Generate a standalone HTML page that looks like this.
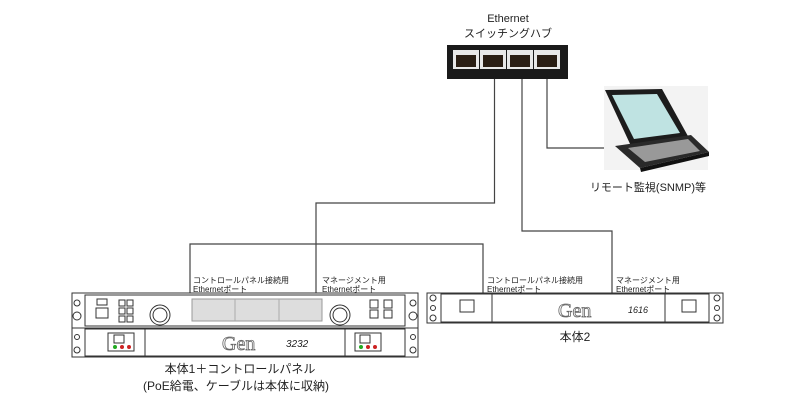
<!DOCTYPE html>
<html><head><meta charset="utf-8"><style>
body{margin:0;background:#fff;width:800px;height:400px;overflow:hidden}
svg text{font-family:"Liberation Sans","Noto Sans CJK JP",sans-serif;fill:#222}
svg text.gen{fill:none;stroke:#666;stroke-width:0.8;font-family:"Liberation Serif",serif}
</style></head><body>
<svg width="800" height="400" viewBox="0 0 800 400" xmlns="http://www.w3.org/2000/svg">
<text x="508" y="22" font-size="11" text-anchor="middle">Ethernet</text>
<text x="508" y="37" font-size="11" text-anchor="middle">スイッチングハブ</text>
<rect x="447" y="45" width="121" height="34" fill="#1a1a1a"/>
<g fill="#e8e8e8">
<rect x="453" y="50" width="26" height="19"/><rect x="480" y="50" width="26" height="19"/>
<rect x="507" y="50" width="26" height="19"/><rect x="534" y="50" width="26" height="19"/>
</g>
<g fill="#2a1e14">
<rect x="456" y="55" width="20" height="12"/><rect x="483" y="55" width="20" height="12"/>
<rect x="510" y="55" width="20" height="12"/><rect x="537" y="55" width="20" height="12"/>
</g>
<g stroke="#444" stroke-width="1.2" fill="none">
<polyline points="494.5,79 494.5,203 316,203 316,293"/>
<polyline points="522,79 522,231 612,231 612,293"/>
<polyline points="190,293 190,244 483,244 483,293"/>
<polyline points="547,79 547,148 604,148"/>
</g>
<rect x="604" y="86" width="104" height="84" fill="#f3f3f3"/>
<polygon points="605,90 662,89 689,138 631,146" fill="#1c1c1c"/>
<polygon points="612,95 657,94 680,133 634,139" fill="#bfe3e2"/>
<polygon points="615,146 691,135 709,152 640,168" fill="#2a2a2a"/>
<polygon points="628,148 688,139 700,151 645,162" fill="#999"/>
<polygon points="640,168 709,152 709,156 641,172" fill="#111"/>
<text x="648" y="191" font-size="11" text-anchor="middle">リモート監視(SNMP)等</text>
<g font-size="8">
<text x="193" y="283">コントロールパネル接続用</text><text x="193" y="292">Ethernetポート</text>
<text x="322" y="283">マネージメント用</text><text x="322" y="292">Ethernetポート</text>
<text x="487" y="283">コントロールパネル接続用</text><text x="487" y="292">Ethernetポート</text>
<text x="616" y="283">マネージメント用</text><text x="616" y="292">Ethernetポート</text>
</g>
<g stroke="#333" stroke-width="1" fill="#fff">
<rect x="72" y="293" width="346" height="35"/>
<rect x="85" y="295" width="320" height="31"/>
<rect x="72" y="328" width="346" height="29"/>
<rect x="85" y="329" width="320" height="27"/>
<line x1="145" y1="329" x2="145" y2="356"/><line x1="345" y1="329" x2="345" y2="356"/>
<circle cx="160" cy="315" r="10"/><circle cx="160" cy="315" r="7"/>
<circle cx="340" cy="315" r="10"/><circle cx="340" cy="315" r="7"/>
<circle cx="77" cy="303" r="3"/><circle cx="77" cy="316" r="4"/>
<circle cx="413" cy="303" r="3"/><circle cx="413" cy="316" r="4"/>
<circle cx="77" cy="337" r="2.5"/><circle cx="77" cy="350" r="3"/>
<circle cx="413" cy="337" r="2.5"/><circle cx="413" cy="350" r="3"/>
<rect x="96" y="308" width="12" height="10"/><rect x="97" y="299" width="10" height="6"/>
<rect x="119" y="300" width="6" height="6"/><rect x="127" y="300" width="6" height="6"/>
<rect x="119" y="308" width="6" height="6"/><rect x="127" y="308" width="6" height="6"/>
<rect x="119" y="316" width="6" height="6"/><rect x="127" y="316" width="6" height="6"/>
<rect x="370" y="300" width="8" height="8"/><rect x="370" y="310" width="8" height="8"/>
<rect x="384" y="300" width="8" height="8"/><rect x="384" y="310" width="8" height="8"/>
<rect x="108" y="333" width="26" height="18"/><rect x="355" y="333" width="26" height="18"/>
<rect x="114" y="335" width="10" height="8"/><rect x="360" y="335" width="10" height="8"/>
</g>
<rect x="192" y="299" width="130" height="22" fill="#ddd" stroke="#999"/>
<line x1="235" y1="299" x2="235" y2="321" stroke="#aaa"/><line x1="279" y1="299" x2="279" y2="321" stroke="#aaa"/>
<g><circle cx="115" cy="347" r="2" fill="#2a2"/><circle cx="122" cy="347" r="2" fill="#c22"/><circle cx="129" cy="347" r="2" fill="#c22"/>
<circle cx="361" cy="347" r="2" fill="#2a2"/><circle cx="368" cy="347" r="2" fill="#c22"/><circle cx="375" cy="347" r="2" fill="#c22"/></g>
<text x="222" y="350" font-size="20" class="gen">Gen</text>
<text x="286" y="347" font-size="10" font-style="italic" fill="#444">3232</text>
<text x="240" y="373" font-size="12" text-anchor="middle">本体1＋コントロールパネル</text>
<text x="236" y="390" font-size="12" text-anchor="middle">(PoE給電、ケーブルは本体に収納)</text>
<g stroke="#333" stroke-width="1" fill="#fff">
<rect x="427" y="293" width="296" height="30"/>
<rect x="441" y="294" width="268" height="28"/>
<line x1="492" y1="294" x2="492" y2="322"/><line x1="665" y1="294" x2="665" y2="322"/>
<rect x="460" y="300" width="14" height="12"/><rect x="682" y="300" width="14" height="12"/>
<circle cx="433" cy="298" r="3"/><circle cx="433" cy="308" r="2.5"/><circle cx="433" cy="318" r="3"/>
<circle cx="717" cy="298" r="3"/><circle cx="717" cy="308" r="2.5"/><circle cx="717" cy="318" r="3"/>
</g>
<text x="558" y="317" font-size="20" class="gen">Gen</text>
<text x="628" y="313" font-size="9" font-style="italic" fill="#444">1616</text>
<text x="575" y="341" font-size="12" text-anchor="middle">本体2</text>
</svg>
</body></html>
